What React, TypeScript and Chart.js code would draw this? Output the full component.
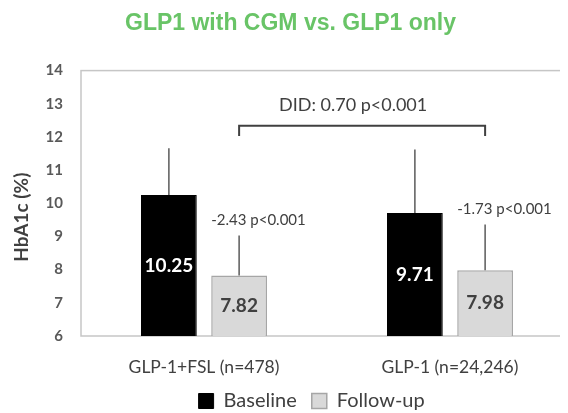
import React, { useEffect, useRef } from "react";
import { Chart, registerables } from "chart.js";

Chart.register(...registerables);

// ---- data ----
const categories = ["GLP-1+FSL (n=478)", "GLP-1 (n=24,246)"];
const seriesNames = ["Baseline", "Follow-up"];
const baselineValues = [10.25, 9.71];
const followUpValues = [7.82, 7.98];
const baselineErrorTop = [11.66, 11.62];
const followUpErrorTop = [9.03, 9.36];
const changeLabels = ["-2.43 p<0.001", "-1.73 p<0.001"];
const didLabel = "DID: 0.70 p<0.001";
const didBracketValue = 12.34;
const didTickEndValue = 12.03;
const didTextValue = 12.95;
const yMin = 6;
const yMax = 14;
const yStep = 1;
const titleText = "GLP1 with CGM vs. GLP1 only";
const yTitle = "HbA1c (%)";

const FONT = "Lato, 'DejaVu Sans', sans-serif";
const TEXT = "#404040";

const annotations = {
  id: "annotations",
  beforeDatasetsDraw(chart: any) {
    const { ctx, chartArea } = chart;
    ctx.save();
    ctx.strokeStyle = "#c6c6c6";
    ctx.lineWidth = 1.5;
    ctx.strokeRect(chartArea.left, chartArea.top, chartArea.right - chartArea.left, chartArea.bottom - chartArea.top);
    ctx.restore();
  },
  afterDatasetsDraw(chart: any) {
    const { ctx, chartArea } = chart;
    const y = chart.scales.y;
    const m0 = chart.getDatasetMeta(0);
    const m1 = chart.getDatasetMeta(1);
    ctx.save();
    // error lines
    ctx.strokeStyle = "#5a5a5a";
    ctx.lineWidth = 1.5;
    const pairs: [any, number[]][] = [
      [m0, baselineErrorTop],
      [m1, followUpErrorTop],
    ];
    pairs.forEach(([meta, errs]) => {
      meta.data.forEach((bar: any, i: number) => {
        ctx.beginPath();
        ctx.moveTo(bar.x, bar.y);
        ctx.lineTo(bar.x, y.getPixelForValue(errs[i]));
        ctx.stroke();
      });
    });
    // values in bars
    ctx.textAlign = "center";
    ctx.textBaseline = "middle";
    ctx.font = `bold 19px ${FONT}`;
    const mid = (bar: any) => (bar.y + Math.min(bar.base, chartArea.bottom)) / 2;
    m0.data.forEach((bar: any, i: number) => {
      ctx.fillStyle = "#ffffff";
      ctx.fillText(baselineValues[i].toFixed(2), bar.x, mid(bar));
    });
    m1.data.forEach((bar: any, i: number) => {
      ctx.fillStyle = TEXT;
      ctx.fillText(followUpValues[i].toFixed(2), bar.x, mid(bar));
    });
    // change labels
    ctx.font = `15px ${FONT}`;
    ctx.textAlign = "left";
    ctx.fillStyle = TEXT;
    m1.data.forEach((bar: any, i: number) => {
      const top = y.getPixelForValue(followUpErrorTop[i]);
      ctx.fillText(changeLabels[i], bar.x - bar.width / 2, top - 15);
    });
    // DID bracket
    const x1 = m1.data[0].x;
    const x2 = m1.data[1].x;
    const yb = y.getPixelForValue(didBracketValue);
    const yt = y.getPixelForValue(didTickEndValue);
    ctx.strokeStyle = "#404040";
    ctx.lineWidth = 2;
    ctx.beginPath();
    ctx.moveTo(x1, yt);
    ctx.lineTo(x1, yb);
    ctx.lineTo(x2, yb);
    ctx.lineTo(x2, yt);
    ctx.stroke();
    ctx.font = `18px ${FONT}`;
    ctx.textAlign = "center";
    ctx.fillText(didLabel, (x1 + x2) / 2 - 9, y.getPixelForValue(didTextValue));
    ctx.restore();
  },
};

export default function App() {
  const ref = useRef<HTMLCanvasElement>(null);
  useEffect(() => {
    if (!ref.current) return;
    const chart = new Chart(ref.current, {
      type: "bar",
      data: {
        labels: categories,
        datasets: [
          {
            label: seriesNames[0],
            data: baselineValues,
            backgroundColor: "#000000",
            borderColor: "#000000",
            borderWidth: 1,
            categoryPercentage: 0.571,
            barPercentage: 0.794,
          },
          {
            label: seriesNames[1],
            data: followUpValues,
            backgroundColor: "#d9d9d9",
            borderColor: "#a6a6a6",
            borderWidth: 1.5,
            categoryPercentage: 0.571,
            barPercentage: 0.794,
          },
        ],
      },
      options: {
        responsive: false,
        animation: false,
        layout: { padding: { left: 0, right: 11, top: 0, bottom: 0 } },
        plugins: {
          title: {
            display: true,
            text: titleText,
            color: "#69c467",
            font: { family: "'Liberation Sans', Arial, sans-serif", size: 23, weight: "bold" },
            padding: { top: 2, bottom: 33 },
          },
          legend: {
            display: true,
            position: "bottom",
            fullSize: false,
            labels: {
              color: TEXT,
              font: { family: FONT, size: 20 },
              boxWidth: 15,
              boxHeight: 15,
              padding: 15,
              generateLabels(chart: any) {
                const items = Chart.defaults.plugins.legend.labels.generateLabels(chart);
                items[items.length - 1].text = items[items.length - 1].text + "      ";
                return items;
              },
            },
          },
          tooltip: { enabled: false },
        },
        scales: {
          x: {
            grid: { display: false },
            border: { display: false },
            ticks: { color: TEXT, font: { family: FONT, size: 17.5 }, padding: 13 },
            afterFit(scale: any) {
              scale.height = 40;
            },
          },
          y: {
            min: yMin,
            max: yMax,
            grid: {
              display: true,
              drawOnChartArea: false,
              drawTicks: true,
              tickLength: 18,
              color: "rgba(0,0,0,0)",
            },
            border: { display: false },
            ticks: {
              stepSize: yStep,
              color: "#595959",
              font: { family: FONT, size: 15, weight: "bold" },
              padding: 0,
            },
            title: {
              display: true,
              text: yTitle + "      ",
              color: TEXT,
              font: { family: FONT, size: 19, weight: "bold" },
              padding: { top: 2, bottom: 0 },
            },
            afterFit(scale: any) {
              scale.width = 73;
            },
          },
        },
      },
      plugins: [annotations],
    } as any);
    return () => chart.destroy();
  }, []);
  return (
    <div style={{ width: 560, height: 405, overflow: "hidden" }}>
      <canvas ref={ref} width={576} height={413} style={{ display: "block" }} />
    </div>
  );
}
